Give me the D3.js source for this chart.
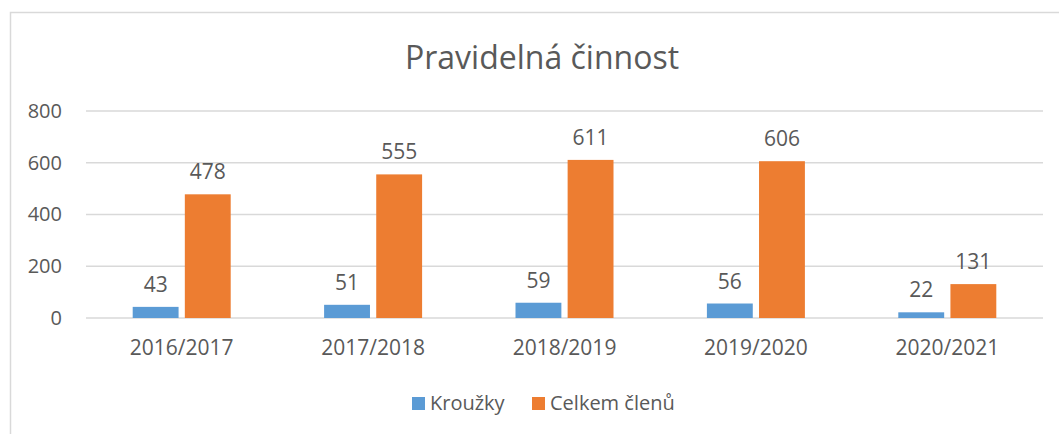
<!DOCTYPE html>
<html>
<head>
<meta charset="utf-8">
<script src="https://cdn.jsdelivr.net/npm/d3@7"></script>
<style>
  body { margin: 0; background: #fff; }
  text { font-family: "Open Sans", sans-serif; fill: #595959; }
</style>
</head>
<body>
<div id="chart"></div>
<script>
var categories = ["2016/2017", "2017/2018", "2018/2019", "2019/2020", "2020/2021"];
var seriesNames = ["Kroužky", "Celkem členů"];
var krouzky = [43, 51, 59, 56, 22];
var clenove = [478, 555, 611, 606, 131];
var yTicks = [0, 200, 400, 600, 800];
var colors = ["#5B9BD5", "#ED7D31"];

function init(){
    var w = 1059, h = 434;
    var left = 86, right = 1043, top = 111, bottom = 318;

    var svg = d3.select("#chart").append("svg")
        .attr("width", w)
        .attr("height", h);

    // chart border
    svg.append("rect")
        .attr("x", 10.5).attr("y", 12.5)
        .attr("width", 1060).attr("height", 440)
        .attr("fill", "none")
        .attr("stroke", "#d9d9d9")
        .attr("stroke-width", 1.5);

    svg.append("text")
        .attr("x", 542).attr("y", 69)
        .attr("text-anchor", "middle")
        .style("font-size", "32px")
        .text("Pravidelná činnost");

    var x0 = d3.scaleBand().domain(categories).range([left, right]);
    var x1 = d3.scaleBand().domain(seriesNames)
        .range([x0.bandwidth() / 2 - 49, x0.bandwidth() / 2 + 49])
        .paddingInner(0.12);
    var y = d3.scaleLinear().domain([0, 800]).range([bottom, top]);

    // grid
    svg.selectAll("line.grid")
        .data(yTicks)
        .enter().append("line")
        .attr("class", "grid")
        .attr("x1", left).attr("x2", right)
        .attr("y1", function(d){ return y(d); })
        .attr("y2", function(d){ return y(d); })
        .attr("stroke", "#d9d9d9")
        .attr("stroke-width", 1.5);

    var yAxis = d3.axisLeft(y).tickValues(yTicks).tickSize(0).tickPadding(24);
    var gy = svg.append("g").attr("transform", "translate(" + left + ",0)").call(yAxis);
    gy.select(".domain").remove();
    gy.selectAll("text").style("font-size", "20px").attr("fill", "#595959")
        .style("font-family", "Open Sans");

    var xAxis = d3.axisBottom(x0).tickSize(0).tickPadding(22);
    var gx = svg.append("g").attr("transform", "translate(0," + bottom + ")").call(xAxis);
    gx.select(".domain").remove();
    gx.selectAll("text").style("font-size", "21px").attr("fill", "#595959")
        .style("font-family", "Open Sans");

    var rows = categories.map(function(c, i){
        return [
            { cat: c, key: seriesNames[0], value: krouzky[i] },
            { cat: c, key: seriesNames[1], value: clenove[i] }
        ];
    });

    var groups = svg.selectAll("g.cat")
        .data(rows)
        .enter().append("g")
        .attr("class", "cat")
        .attr("transform", function(d){ return "translate(" + x0(d[0].cat) + ",0)"; });

    groups.selectAll("rect")
        .data(function(d){ return d; })
        .enter().append("rect")
        .attr("x", function(d){ return x1(d.key); })
        .attr("width", x1.bandwidth())
        .attr("y", function(d){ return y(d.value); })
        .attr("height", function(d){ return y(0) - y(d.value); })
        .attr("fill", function(d, i){ return colors[i]; });

    groups.selectAll("text.lbl")
        .data(function(d){ return d; })
        .enter().append("text")
        .attr("class", "lbl")
        .attr("x", function(d){ return x1(d.key) + x1.bandwidth() / 2; })
        .attr("y", function(d){ return y(d.value) - 15; })
        .attr("text-anchor", "middle")
        .style("font-size", "21px")
        .text(function(d){ return d.value; });

    // legend
    var legX = [412, 532];
    var leg = svg.selectAll("g.leg")
        .data(seriesNames)
        .enter().append("g")
        .attr("class", "leg")
        .attr("transform", function(d, i){ return "translate(" + legX[i] + ",397)"; });
    leg.append("rect")
        .attr("width", 13).attr("height", 13)
        .attr("fill", function(d, i){ return colors[i]; });
    leg.append("text")
        .attr("x", 18).attr("y", 13)
        .style("font-size", "20px")
        .text(function(d){ return d; });
}
window.onload = init;
</script>
</body>
</html>
